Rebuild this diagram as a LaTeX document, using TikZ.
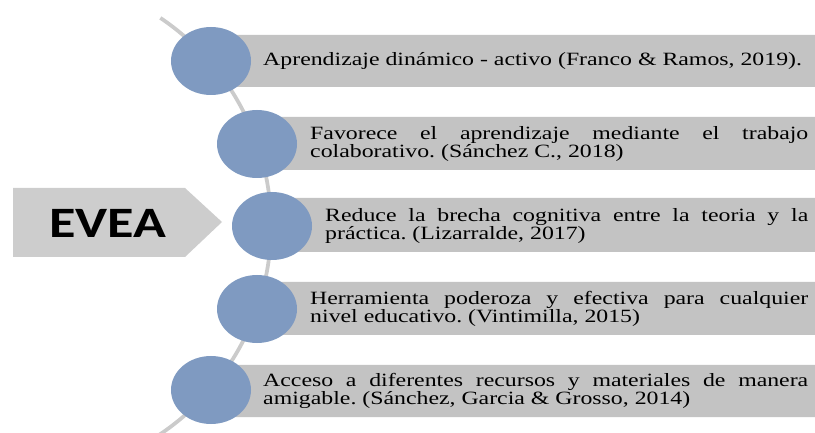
\documentclass[tikz,border=0pt]{standalone}
\usepackage{fontspec}
\setmainfont[FakeStretch=1.27]{Liberation Serif}
\newfontfamily\eveafont[FakeStretch=1.25]{Carlito}
\usetikzlibrary{
    shapes.geometric,
    positioning
}
\hyphenpenalty=10000
\frenchspacing
\definecolor{evblue}{HTML}{7F9AC1}
\definecolor{evgray}{HTML}{C3C3C3}
\definecolor{evlight}{HTML}{CDCDCD}
\definecolor{evline}{HTML}{CBCBCB}
\tikzset{evdot/.style={ellipse, inner sep=0pt, fill=evblue, minimum width=2.4cm, minimum height=2.04cm}}
\tikzset{evtxt/.style={anchor=west, inner sep=0pt, font=\fontsize{16}{15.4}\selectfont}}
\tikzset{evpar/.style={evtxt, align=justify}}

\begin{document}
\begin{tikzpicture}[x=0.03cm, y=-0.03cm]
                        \useasboundingbox (0, 0) rectangle (815, 433);
                        \clip (0, 0) rectangle (815, 433);
                        \coordinate (ctr) at (20, 226);
                        \draw[evline, line width=3.2pt]
                        ([shift={(-56:251)}]ctr) arc[start angle=-56, end angle=62, radius=251];
                        \fill[evgray]
                        (211, 35) rectangle (815, 87)
                        (257, 117) rectangle (815, 170)
                        (272, 198) rectangle (815, 252)
                        (257, 282) rectangle (815, 335)
                        (211, 365) rectangle (815, 417);
                        \node[evdot] (d1) at (211, 61) {};
                        \node[evdot] (d2) at (257, 144) {};
                        \node[evdot] (d3) at (272, 226) {};
                        \node[evdot] (d4) at (257, 309) {};
                        \node[evdot] (d5) at (211, 390) {};
                        \node[evtxt] (t1) at (263, 61) {Aprendizaje dinámico - activo (Franco \& Ramos, 2019).};
                        \node[evpar, text width=14.94cm] (t2) at (310, 144) {Favorece el aprendizaje mediante el trabajo\linebreak colaborativo. (Sánchez C., 2018)};
                        \node[evpar, text width=14.49cm] (t3) at (325, 226) {Reduce la brecha cognitiva entre la teoria y la\linebreak práctica. (Lizarralde, 2017)};
                        \node[evpar, text width=14.94cm] (t4) at (310, 309) {Herramienta poderoza y efectiva para cualquier\linebreak nivel educativo. (Vintimilla, 2015)};
                        \node[evpar, text width=16.35cm] (t5) at (263, 391) {Acceso a diferentes recursos y materiales de manera\linebreak amigable. (Sánchez, Garcia \& Grosso, 2014)};
                        \fill[evlight]
                        (13, 188) -- (185, 188) -- (222, 222) -- (185, 257) -- (13, 257) -- cycle;
                        \node[anchor=base, inner sep=0pt, font=\eveafont\bfseries\fontsize{37}{37}\selectfont] (evea) at (108, 238) {EVEA};
                    \end{tikzpicture}
\end{document}
